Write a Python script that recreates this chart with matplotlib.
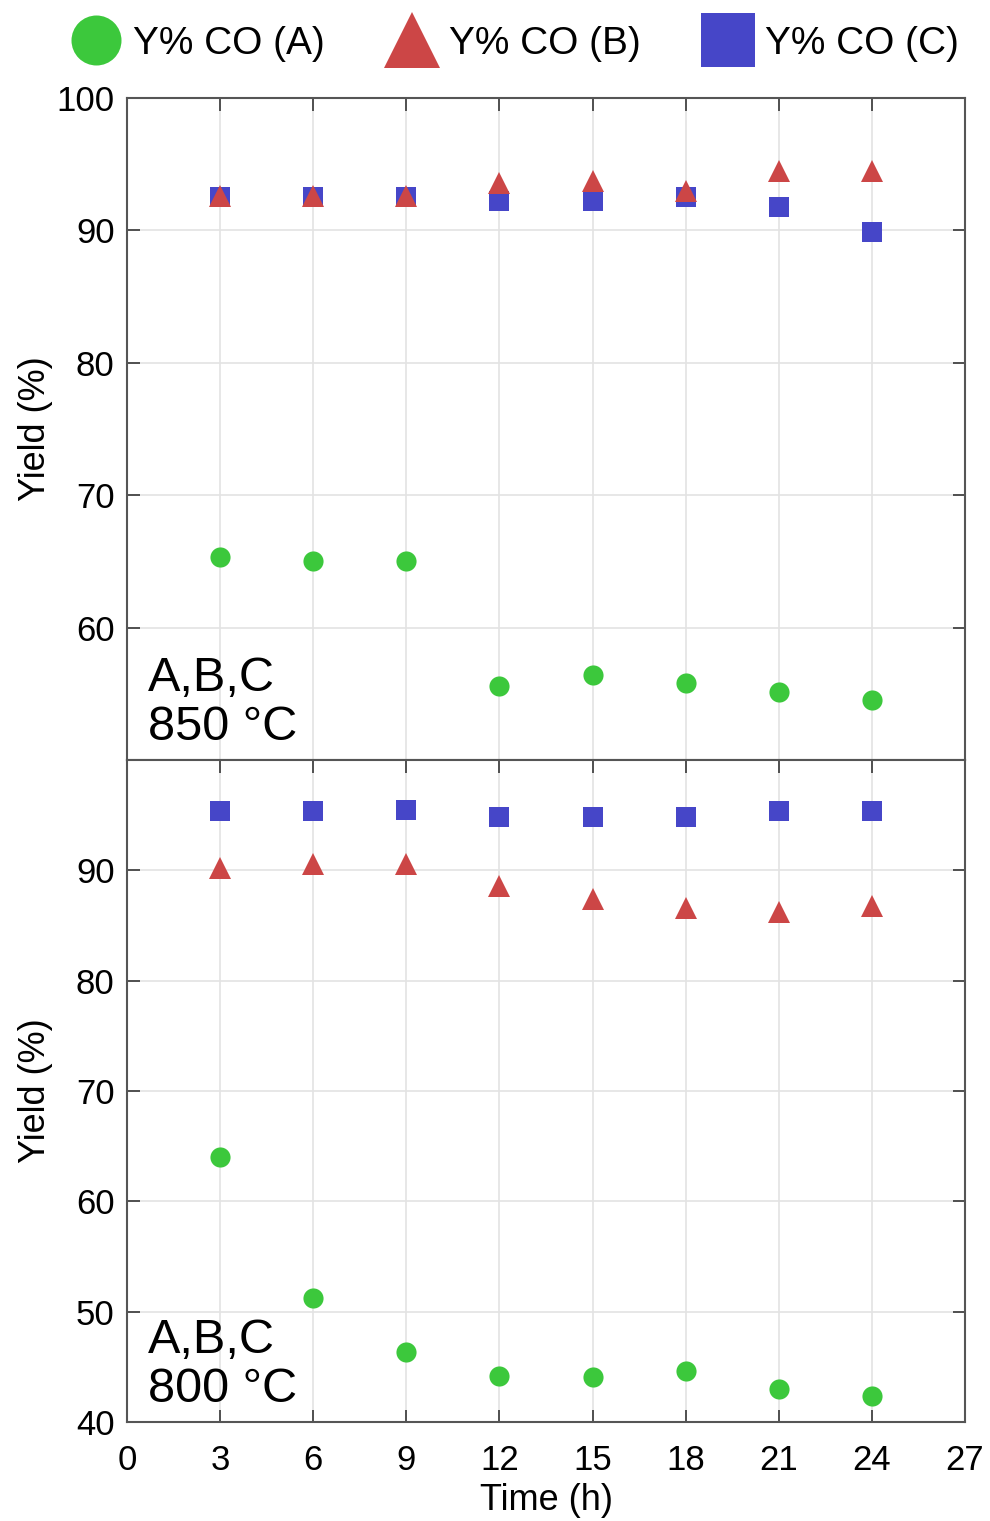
import matplotlib
matplotlib.use("Agg")
import matplotlib.pyplot as plt
from matplotlib.lines import Line2D

plt.rcParams['font.family'] = ['Liberation Sans', 'DejaVu Sans']

# data
time_h = [3, 6, 9, 12, 15, 18, 21, 24]

# 850 °C panel
a_850 = [65.3, 65.0, 65.0, 55.6, 56.4, 55.8, 55.1, 54.5]
b_850 = [92.6, 92.6, 92.6, 93.6, 93.7, 93.0, 94.5, 94.5]
c_850 = [92.5, 92.5, 92.5, 92.2, 92.2, 92.5, 91.8, 89.9]

# 800 °C panel
a_800 = [64.0, 51.2, 46.3, 44.2, 44.1, 44.6, 43.0, 42.4]
b_800 = [90.2, 90.6, 90.6, 88.6, 87.4, 86.6, 86.2, 86.8]
c_800 = [95.4, 95.4, 95.5, 94.8, 94.8, 94.8, 95.4, 95.4]

x_ticks = [0, 3, 6, 9, 12, 15, 18, 21, 24, 27]
series_labels = ['Y% CO (A)', 'Y% CO (B)', 'Y% CO (C)']
panel_notes = ['A,B,C\n850 °C', 'A,B,C\n800 °C']

green = '#3cc83c'
red = '#cc4646'
blue = '#4646c8'

fig = plt.figure(figsize=(9.9, 15.21), dpi=100)
W, H = 990, 1521
left, right = 127, 965
ax_top = fig.add_axes([left / W, 1 - 760 / H, (right - left) / W, (760 - 98) / H])
ax_bot = fig.add_axes([left / W, 1 - 1422 / H, (right - left) / W, (1422 - 760) / H])


def style(ax, ylim, yticks, show_x):
    ax.set_xlim(0, 27)
    ax.set_ylim(*ylim)
    ax.set_xticks(x_ticks)
    ax.set_yticks(yticks)
    ax.grid(True, color='#e3e3e3', linewidth=1.2)
    ax.set_axisbelow(True)
    ax.tick_params(direction='in', length=9, width=1.3, color='#444444',
                   labelsize=25, top=True, right=True)
    ax.tick_params(axis='y', pad=9)
    ax.tick_params(axis='x', pad=16)
    if not show_x:
        ax.tick_params(labelbottom=False, bottom=False)
    for s in ax.spines.values():
        s.set_color('#555555')
        s.set_linewidth(1.5)
    ax.set_ylabel('Yield (%)', fontsize=26)
    ax.yaxis.set_label_coords(-0.088, 0.5)


def draw(ax, a, b, c):
    ax.plot(time_h, a, 'o', color=green, markersize=14.5, markeredgewidth=0, zorder=3)
    ax.plot(time_h, c, 's', color=blue, markersize=15, markeredgewidth=0, zorder=3)
    ax.plot(time_h, b, '^', color=red, markersize=16.5, markeredgewidth=0, zorder=4)


draw(ax_top, a_850, b_850, c_850)
style(ax_top, (50, 100), [60, 70, 80, 90, 100], False)
ax_top.text(0.025, 0.015, panel_notes[0], transform=ax_top.transAxes,
            fontsize=35, va='bottom', ha='left', linespacing=1.12)

draw(ax_bot, a_800, b_800, c_800)
style(ax_bot, (40, 100), [40, 50, 60, 70, 80, 90], True)
ax_bot.set_xlabel('Time (h)', fontsize=26, labelpad=4)
ax_bot.text(0.025, 0.015, panel_notes[1], transform=ax_bot.transAxes,
            fontsize=35, va='bottom', ha='left', linespacing=1.12)

handles = [
    Line2D([], [], marker='o', color=green, linestyle='none', markersize=36, markeredgewidth=0),
    Line2D([], [], marker='^', color=red, linestyle='none', markersize=40, markeredgewidth=0),
    Line2D([], [], marker='s', color=blue, linestyle='none', markersize=39, markeredgewidth=0),
]
fig.legend(handles, series_labels, loc='center', bbox_to_anchor=(0.52, 1 - 44 / H),
           ncol=3, frameon=False, fontsize=28, handlelength=1.3, handletextpad=0.3,
           columnspacing=1.6, borderaxespad=0)

fig.savefig('out.png', dpi=100)
